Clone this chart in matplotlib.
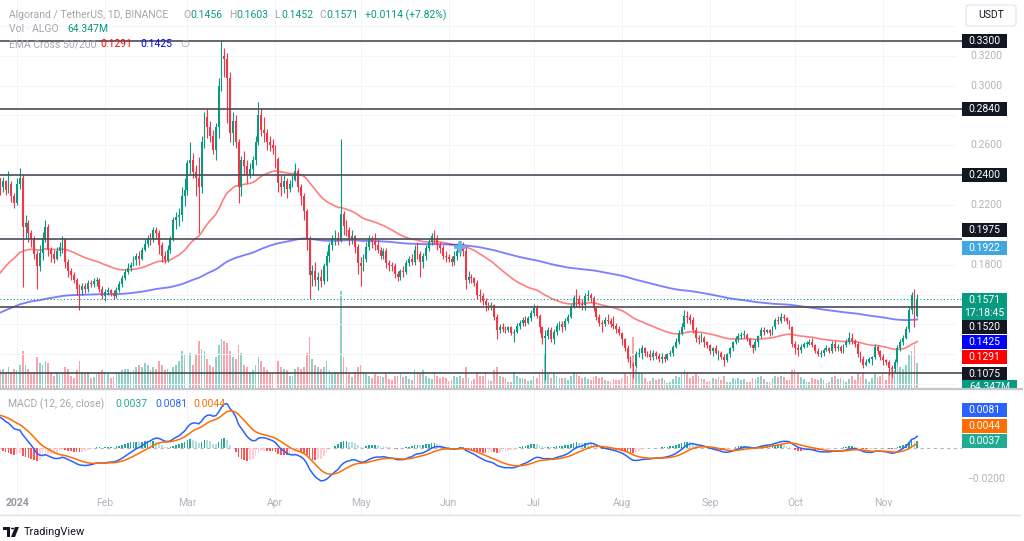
import numpy as np
import pandas as pd
import matplotlib
matplotlib.use("Agg")
import matplotlib.pyplot as plt
import matplotlib.transforms as mtransforms
from matplotlib.patches import Rectangle, FancyBboxPatch, Polygon, Circle

plt.rcParams['font.family'] = ['Roboto', 'DejaVu Sans']

# ---------------- data (ALGO/USDT daily) ----------------
START = "2023-12-26"
FIRST_OPEN = 0.238

close_dec = [0.232, 0.236, 0.230, 0.234, 0.226, 0.221]
high_dec = [0.236, 0.239, 0.237, 0.243, 0.236, 0.228]
low_dec = [0.227, 0.229, 0.227, 0.228, 0.222, 0.218]
vol_dec = [45, 50, 42, 55, 40, 48]

close_jan = [0.234, 0.238, 0.205, 0.208, 0.201, 0.197, 0.187, 0.179, 0.188, 0.198,
             0.205, 0.190, 0.187, 0.184, 0.189, 0.192, 0.197, 0.182, 0.176, 0.173,
             0.170, 0.164, 0.163, 0.166, 0.164, 0.168, 0.167, 0.169, 0.170, 0.164, 0.159]
high_jan = [0.238, 0.245, 0.240, 0.213, 0.210, 0.203, 0.199, 0.189, 0.193, 0.202,
            0.210, 0.207, 0.192, 0.190, 0.192, 0.195, 0.199, 0.198, 0.184, 0.178,
            0.175, 0.171, 0.167, 0.168, 0.168, 0.170, 0.170, 0.171, 0.172, 0.171, 0.166]
low_jan = [0.220, 0.231, 0.165, 0.198, 0.195, 0.192, 0.184, 0.164, 0.176, 0.183,
           0.195, 0.186, 0.182, 0.181, 0.183, 0.186, 0.188, 0.178, 0.172, 0.170,
           0.168, 0.160, 0.150, 0.160, 0.161, 0.162, 0.165, 0.165, 0.166, 0.162, 0.157]
vol_jan = [45, 60, 95, 60, 50, 35, 40, 80, 65, 60, 70, 65, 40, 30, 40, 38, 42, 55, 50, 30,
           25, 45, 70, 40, 35, 40, 25, 28, 35, 40, 45]

close_feb = [0.162, 0.163, 0.161, 0.159, 0.163, 0.167, 0.171, 0.175, 0.178, 0.180,
             0.183, 0.186, 0.184, 0.190, 0.194, 0.198, 0.197, 0.203, 0.201, 0.193,
             0.186, 0.183, 0.190, 0.197, 0.210, 0.212, 0.213, 0.226, 0.230]
high_feb = [0.164, 0.165, 0.164, 0.163, 0.165, 0.169, 0.173, 0.177, 0.181, 0.182,
            0.186, 0.188, 0.189, 0.192, 0.197, 0.200, 0.201, 0.205, 0.205, 0.203,
            0.195, 0.189, 0.193, 0.199, 0.212, 0.215, 0.218, 0.232, 0.238]
low_feb = [0.156, 0.160, 0.159, 0.157, 0.158, 0.162, 0.165, 0.170, 0.174, 0.176,
           0.179, 0.180, 0.180, 0.183, 0.189, 0.192, 0.193, 0.195, 0.197, 0.187,
           0.182, 0.181, 0.182, 0.188, 0.196, 0.204, 0.206, 0.209, 0.219]
vol_feb = [40, 35, 25, 28, 40, 38, 45, 50, 48, 40, 45, 55, 60, 55, 65, 60, 45, 55, 50, 70,
           60, 45, 50, 40, 55, 60, 70, 95, 85]

close_mar = [0.248, 0.250, 0.242, 0.238, 0.232, 0.262, 0.279, 0.272, 0.266, 0.257,
             0.272, 0.300, 0.320, 0.318, 0.305, 0.268, 0.276, 0.262, 0.232, 0.250,
             0.246, 0.240, 0.244, 0.250, 0.262, 0.280, 0.270, 0.268, 0.262, 0.260, 0.258]
high_mar = [0.250, 0.262, 0.255, 0.247, 0.252, 0.266, 0.282, 0.284, 0.276, 0.270,
            0.275, 0.305, 0.330, 0.325, 0.322, 0.309, 0.282, 0.280, 0.264, 0.253,
            0.256, 0.250, 0.248, 0.253, 0.266, 0.289, 0.285, 0.279, 0.271, 0.266, 0.264]
low_mar = [0.227, 0.241, 0.238, 0.226, 0.201, 0.228, 0.258, 0.265, 0.262, 0.254,
           0.250, 0.265, 0.296, 0.306, 0.275, 0.262, 0.260, 0.258, 0.221, 0.226,
           0.240, 0.235, 0.238, 0.240, 0.247, 0.260, 0.266, 0.262, 0.257, 0.256, 0.254]
vol_mar = [80, 90, 60, 85, 120, 100, 95, 75, 60, 55, 80, 110, 125, 120, 115, 95, 80, 75, 110, 90,
           60, 55, 40, 45, 60, 80, 70, 55, 45, 35, 35]

close_apr = [0.251, 0.235, 0.232, 0.236, 0.231, 0.234, 0.237, 0.243, 0.232, 0.226,
             0.216, 0.197, 0.173, 0.176, 0.170, 0.172, 0.169, 0.179, 0.186, 0.193,
             0.197, 0.198, 0.196, 0.214, 0.206, 0.203, 0.197, 0.199, 0.192, 0.181]
high_apr = [0.260, 0.252, 0.240, 0.241, 0.238, 0.237, 0.240, 0.248, 0.245, 0.234,
            0.228, 0.217, 0.199, 0.180, 0.182, 0.175, 0.177, 0.181, 0.189, 0.195,
            0.200, 0.203, 0.202, 0.264, 0.216, 0.210, 0.205, 0.203, 0.200, 0.194]
low_apr = [0.245, 0.229, 0.226, 0.228, 0.225, 0.229, 0.232, 0.236, 0.229, 0.220,
           0.210, 0.190, 0.157, 0.166, 0.166, 0.163, 0.165, 0.167, 0.169, 0.182,
           0.190, 0.193, 0.193, 0.195, 0.200, 0.199, 0.193, 0.194, 0.188, 0.174]
vol_apr = [55, 70, 55, 50, 45, 30, 30, 50, 55, 50, 55, 90, 130, 75, 60, 55, 50, 55, 70, 45,
           35, 40, 38, 250, 80, 55, 35, 28, 40, 55]

close_may = [0.179, 0.184, 0.192, 0.197, 0.195, 0.193, 0.190, 0.186, 0.189, 0.181,
             0.180, 0.179, 0.174, 0.172, 0.176, 0.175, 0.181, 0.184, 0.182, 0.190,
             0.187, 0.182, 0.186, 0.191, 0.195, 0.199, 0.197, 0.193, 0.191, 0.186, 0.185]
high_may = [0.185, 0.187, 0.195, 0.200, 0.199, 0.201, 0.197, 0.192, 0.191, 0.191,
            0.183, 0.182, 0.181, 0.176, 0.177, 0.179, 0.183, 0.186, 0.187, 0.193,
            0.195, 0.189, 0.188, 0.193, 0.197, 0.201, 0.203, 0.200, 0.195, 0.193, 0.189]
low_may = [0.166, 0.176, 0.182, 0.190, 0.191, 0.190, 0.188, 0.184, 0.184, 0.178,
           0.176, 0.176, 0.171, 0.169, 0.170, 0.172, 0.174, 0.179, 0.180, 0.180,
           0.184, 0.172, 0.178, 0.183, 0.189, 0.193, 0.194, 0.190, 0.188, 0.184, 0.182]
vol_may = [60, 40, 35, 30, 25, 35, 30, 30, 28, 35, 22, 20, 32, 30, 38, 28, 32, 22, 20, 45,
           40, 35, 45, 30, 25, 22, 35, 30, 25, 28, 25]

close_jun = [0.184, 0.182, 0.186, 0.189, 0.192, 0.189, 0.170, 0.172, 0.171, 0.168,
             0.160, 0.159, 0.156, 0.153, 0.152, 0.153, 0.145, 0.136, 0.138, 0.137,
             0.136, 0.138, 0.134, 0.135, 0.139, 0.141, 0.143, 0.141, 0.144, 0.148]
high_jun = [0.187, 0.186, 0.189, 0.191, 0.194, 0.195, 0.192, 0.176, 0.174, 0.172,
            0.170, 0.164, 0.161, 0.158, 0.155, 0.155, 0.154, 0.147, 0.140, 0.141,
            0.139, 0.139, 0.139, 0.137, 0.141, 0.143, 0.145, 0.146, 0.146, 0.150]
low_jun = [0.182, 0.179, 0.180, 0.183, 0.186, 0.186, 0.164, 0.168, 0.168, 0.166,
           0.157, 0.155, 0.153, 0.149, 0.150, 0.150, 0.143, 0.130, 0.134, 0.135,
           0.134, 0.135, 0.133, 0.128, 0.134, 0.137, 0.139, 0.139, 0.140, 0.142]
vol_jun = [18, 20, 30, 28, 30, 25, 55, 25, 18, 22, 40, 30, 32, 35, 20, 18, 45, 55, 30, 28,
           25, 15, 15, 40, 30, 25, 25, 22, 18, 20]

close_jul = [0.151, 0.146, 0.138, 0.131, 0.132, 0.136, 0.130, 0.135, 0.139, 0.140,
             0.138, 0.142, 0.145, 0.152, 0.158, 0.157, 0.154, 0.153, 0.159, 0.160,
             0.158, 0.151, 0.145, 0.141, 0.140, 0.143, 0.142, 0.140, 0.139, 0.137, 0.134]
high_jul = [0.154, 0.153, 0.147, 0.139, 0.136, 0.138, 0.138, 0.137, 0.141, 0.142,
            0.142, 0.144, 0.147, 0.154, 0.160, 0.164, 0.160, 0.157, 0.161, 0.163,
            0.161, 0.159, 0.152, 0.147, 0.143, 0.145, 0.147, 0.144, 0.146, 0.141, 0.139]
low_jul = [0.146, 0.144, 0.134, 0.127, 0.103, 0.130, 0.128, 0.127, 0.133, 0.136,
           0.135, 0.136, 0.141, 0.144, 0.151, 0.152, 0.152, 0.150, 0.150, 0.156,
           0.155, 0.149, 0.143, 0.139, 0.135, 0.139, 0.140, 0.138, 0.137, 0.134, 0.133]
vol_jul = [30, 25, 35, 50, 90, 35, 25, 35, 30, 25, 25, 25, 20, 30, 40, 35, 30, 25, 28, 22,
           20, 28, 30, 25, 28, 20, 18, 15, 22, 20, 20]

close_aug = [0.130, 0.124, 0.117, 0.113, 0.112, 0.120, 0.121, 0.124, 0.121, 0.120,
             0.118, 0.121, 0.119, 0.117, 0.118, 0.117, 0.120, 0.121, 0.125, 0.128,
             0.134, 0.138, 0.146, 0.145, 0.143, 0.136, 0.131, 0.130, 0.131, 0.128, 0.126]
high_aug = [0.135, 0.131, 0.126, 0.119, 0.115, 0.122, 0.124, 0.126, 0.125, 0.122,
            0.123, 0.123, 0.122, 0.121, 0.121, 0.120, 0.121, 0.123, 0.126, 0.131,
            0.136, 0.141, 0.150, 0.149, 0.147, 0.145, 0.138, 0.133, 0.134, 0.132, 0.129]
low_aug = [0.126, 0.122, 0.115, 0.111, 0.104, 0.111, 0.118, 0.117, 0.119, 0.118,
           0.116, 0.116, 0.117, 0.115, 0.114, 0.115, 0.116, 0.119, 0.119, 0.124,
           0.127, 0.133, 0.137, 0.141, 0.140, 0.134, 0.128, 0.127, 0.128, 0.125, 0.124]
vol_aug = [25, 35, 30, 40, 130, 50, 40, 35, 25, 15, 18, 25, 20, 22, 25, 20, 12, 15, 22, 30,
           28, 35, 45, 40, 25, 30, 35, 30, 25, 22, 15]

close_sep = [0.122, 0.124, 0.121, 0.121, 0.118, 0.116, 0.120, 0.124, 0.128, 0.130,
             0.132, 0.133, 0.133, 0.130, 0.126, 0.124, 0.128, 0.132, 0.136, 0.135,
             0.136, 0.134, 0.138, 0.143, 0.142, 0.145, 0.144, 0.142, 0.138, 0.127]
high_sep = [0.127, 0.125, 0.126, 0.123, 0.122, 0.120, 0.121, 0.125, 0.129, 0.132,
            0.134, 0.135, 0.136, 0.134, 0.131, 0.127, 0.130, 0.133, 0.138, 0.138,
            0.137, 0.137, 0.139, 0.144, 0.146, 0.148, 0.147, 0.145, 0.143, 0.139]
low_sep = [0.120, 0.119, 0.120, 0.116, 0.117, 0.112, 0.115, 0.118, 0.122, 0.127,
           0.128, 0.130, 0.131, 0.129, 0.125, 0.121, 0.123, 0.125, 0.131, 0.133,
           0.134, 0.132, 0.133, 0.137, 0.140, 0.141, 0.142, 0.140, 0.137, 0.125]
vol_sep = [18, 25, 22, 28, 20, 30, 15, 15, 25, 22, 25, 20, 22, 15, 15, 25, 22, 28, 30, 22,
           15, 15, 25, 30, 28, 32, 28, 20, 20, 45]

close_oct = [0.124, 0.123, 0.125, 0.127, 0.127, 0.128, 0.126, 0.122, 0.120, 0.121,
             0.123, 0.124, 0.122, 0.127, 0.124, 0.125, 0.122, 0.126, 0.128, 0.131,
             0.129, 0.127, 0.120, 0.117, 0.113, 0.115, 0.117, 0.118, 0.125, 0.122, 0.118]
high_oct = [0.129, 0.127, 0.127, 0.128, 0.129, 0.130, 0.131, 0.127, 0.124, 0.123,
            0.124, 0.126, 0.125, 0.129, 0.129, 0.127, 0.126, 0.127, 0.130, 0.135,
            0.134, 0.130, 0.128, 0.122, 0.119, 0.117, 0.118, 0.119, 0.127, 0.126, 0.123]
low_oct = [0.120, 0.119, 0.121, 0.124, 0.125, 0.126, 0.125, 0.121, 0.119, 0.118,
           0.119, 0.122, 0.121, 0.121, 0.122, 0.122, 0.121, 0.121, 0.125, 0.127,
           0.127, 0.125, 0.118, 0.115, 0.111, 0.112, 0.114, 0.113, 0.117, 0.120, 0.116]
vol_oct = [50, 35, 28, 22, 15, 15, 25, 22, 20, 25, 20, 12, 15, 28, 30, 22, 25, 20, 15, 22,
           30, 20, 35, 28, 40, 22, 15, 25, 35, 28, 30]

close_nov = [0.116, 0.115, 0.111, 0.110, 0.115, 0.124, 0.128, 0.131, 0.137, 0.150,
             0.160, 0.1456, 0.1571]
high_nov = [0.120, 0.117, 0.116, 0.113, 0.117, 0.126, 0.130, 0.133, 0.139, 0.152,
            0.162, 0.164, 0.1603]
low_nov = [0.113, 0.113, 0.106, 0.105, 0.108, 0.114, 0.122, 0.126, 0.130, 0.135,
           0.147, 0.138, 0.1452]
vol_nov = [35, 20, 40, 55, 45, 65, 55, 50, 60, 85, 95, 110, 64.347]

# indicator state carried in from before the visible window
EMA50_SEED = 0.172
EMA200_SEED = 0.147
MACD_FAST_SEED = 0.232
MACD_SLOW_SEED = 0.211
MACD_SIGNAL_SEED = 0.021

LEVELS = [0.3300, 0.2840, 0.2400, 0.1975, 0.1520, 0.1075]
CROSS_DATE = "2024-06-05"
CROSS_VALUE = 0.1922
LAST_EMA50 = 0.1291
LAST_EMA200 = 0.1425
LAST_MACD = 0.0081
LAST_SIGNAL = 0.0044
LAST_HIST = 0.0037
LAST_VOLUME = "64.347M"
CHANGE_TEXT = "+0.0114 (+7.82%)"
COUNTDOWN = "17:18:45"
MONTHS = ["2024", "Feb", "Mar", "Apr", "May", "Jun", "Jul", "Aug", "Sep", "Oct", "Nov"]

closes = np.array(close_dec + close_jan + close_feb + close_mar + close_apr + close_may +
                  close_jun + close_jul + close_aug + close_sep + close_oct + close_nov)
highs = np.array(high_dec + high_jan + high_feb + high_mar + high_apr + high_may +
                 high_jun + high_jul + high_aug + high_sep + high_oct + high_nov)
lows = np.array(low_dec + low_jan + low_feb + low_mar + low_apr + low_may +
                low_jun + low_jul + low_aug + low_sep + low_oct + low_nov)
volume = np.array(vol_dec + vol_jan + vol_feb + vol_mar + vol_apr + vol_may +
                  vol_jun + vol_jul + vol_aug + vol_sep + vol_oct + vol_nov, dtype=float)
opens = np.concatenate([[FIRST_OPEN], closes[:-1]])

base = pd.Timestamp("2024-01-01")
dates = pd.date_range(START, periods=len(closes), freq="D")
day = np.asarray((dates - base).days, dtype=float)


def ema(values, length, seed):
    alpha = 2.0 / (length + 1)
    out = []
    prev = seed
    for v in values:
        prev = prev + alpha * (v - prev)
        out.append(prev)
    return np.array(out)


ema50 = ema(closes, 50, EMA50_SEED)
ema200 = ema(closes, 200, EMA200_SEED)
macd = ema(closes, 12, MACD_FAST_SEED) - ema(closes, 26, MACD_SLOW_SEED)
signal = ema(macd, 9, MACD_SIGNAL_SEED)
hist = macd - signal

# ---------------- colours ----------------
UP = "#089981"
DOWN = "#f23645"
GRAY_TXT = "#a3a6af"
AXIS_TXT = "#b2b5be"
LINE_DARK = "#4a4d57"

W, H = 1024, 541
fig = plt.figure(figsize=(W / 100, H / 100), dpi=100)
fig.patch.set_facecolor("white")


def fx(px):
    return px / W


def fy(py):
    return 1 - py / H


PX_PER_DAY = 2.84
JAN1_PX = 17
x_lo = -JAN1_PX / PX_PER_DAY
x_hi = (W - JAN1_PX) / PX_PER_DAY

# main pane: y 0..388 px
ax = fig.add_axes([0, fy(388), 1, 388 / H])
axv = ax.twinx()
ax.set_zorder(2)
ax.patch.set_visible(False)
axv.set_zorder(1)
ax.set_xlim(x_lo, x_hi)
ax.set_ylim(0.33 - 347.3 / 1493.5, 0.33 + 40.7 / 1493.5)
axv.set_ylim(0, 997)
for a in (ax, axv):
    a.set_axis_off()

# macd pane: y 390..515 px
axm = fig.add_axes([0, fy(515), 1, 125 / H])
axm.set_xlim(x_lo, x_hi)
axm.set_ylim(-67.3 * 0.000639, 57.7 * 0.000639)
axm.set_axis_off()


def day_at(px):
    return ax.transData.inverted().transform((px, 0))[0]


def py_of(axis, value):
    return H - axis.transData.transform((0, value))[1]


x_end = day_at(962)
x_pane = day_at(955)

# grid
month_days = [(pd.Timestamp(2024, m, 1) - base).days for m in range(1, 12)]
for d in month_days:
    ax.axvline(d, color="#f3f4f7", lw=0.7, zorder=0)
    axm.axvline(d, color="#f3f4f7", lw=0.7, zorder=0)
for v in np.arange(0.10, 0.345, 0.02):
    ax.hlines(v, x_lo, x_pane, color="#f3f4f7", lw=0.7, zorder=0)

# volume
up = closes >= opens
cols = np.where(up, UP, DOWN)
axv.bar(day, volume, width=0.62, color=cols, alpha=0.45, linewidth=0)

# EMA lines
ax.plot(day, ema50, color="#ff0000", alpha=0.5, lw=1.2, zorder=2)
ax.plot(day, ema200, color="#0000ff", alpha=0.5, lw=1.35, zorder=2)

# candles
ax.vlines(day, lows, highs, colors=cols, lw=0.8, zorder=3)
ax.bar(day, np.maximum(np.abs(closes - opens), 0.0005), bottom=np.minimum(opens, closes),
       width=0.66, color=cols, linewidth=0, zorder=4)

# drawn levels and current price line
ax.hlines(LEVELS, x_lo, x_end, color=LINE_DARK, lw=1.2, zorder=6)
ax.hlines(closes[-1], x_lo, x_end, color=UP, lw=0.8, linestyles=(0, (1, 2)), zorder=5)

# ema cross marker
cross_day = (pd.Timestamp(CROSS_DATE) - base).days
ax.plot(cross_day, CROSS_VALUE, marker="+", ms=8, mew=2.6, color="#5db8ec", zorder=7)

# MACD
prev = np.concatenate([[hist[0]], hist[:-1]])
hcols = np.where(hist >= 0, np.where(hist > prev, "#26a69a", "#b2dfdb"),
                 np.where(hist < prev, "#ff5252", "#ffcdd2"))
axm.bar(day, hist, width=0.6, color=hcols, linewidth=0, zorder=2)
axm.hlines(0, x_lo, x_end, color="#b2b5be", lw=0.8, linestyles=(0, (3, 3)), zorder=1)
axm.plot(day, macd, color="#2962ff", lw=1.1, zorder=3)
axm.plot(day, signal, color="#ff6d00", lw=1.1, zorder=3)

# month labels
date_tr = mtransforms.blended_transform_factory(axm.transData, axm.transAxes)
for d, name in zip(month_days, MONTHS):
    axm.text(d, 12 / 125, name, transform=date_tr, ha="center", va="center", fontsize=7.5,
             color="#9598a1" if name == "2024" else AXIS_TXT,
             fontweight="bold" if name == "2024" else "normal")

# pane borders
fig.add_artist(plt.Line2D([0, fx(1022)], [fy(389), fy(389)], transform=fig.transFigure,
                          color="#c3c6ce", lw=1.6, zorder=8))
fig.add_artist(plt.Line2D([0, fx(1020)], [fy(515), fy(515)], transform=fig.transFigure,
                          color="#e0e3eb", lw=1.0, zorder=8))

BOX_H = 14


def price_box(py, lines, bg, fg="white", x0=962, x1=1007, h=BOX_H):
    top = py - h / 2
    height = h + 13 * (len(lines) - 1)
    fig.add_artist(Rectangle((fx(x0), fy(top + height)), fx(x1 - x0), height / H,
                             transform=fig.transFigure, facecolor=bg, edgecolor="none",
                             zorder=5))
    for i, s in enumerate(lines):
        fig.text(fx((x0 + x1) / 2), fy(py + i * 13), s, ha="center", va="center",
                 fontsize=7.5, color=fg, zorder=6)
    return (top, top + height)


# (value, background, display shift in px so the boxes do not overlap)
main_labels = [(0.3300, "#131722", 0), (0.2840, "#131722", 0), (0.2400, "#131722", 0),
               (0.1975, "#131722", -8.5), (CROSS_VALUE, "#42a7e0", 1),
               (0.1520, "#131722", 20), (LAST_EMA200, "#0000ff", 21),
               (LAST_EMA50, "#ff0000", 16), (0.1075, "#131722", 0.5)]
spans = []
for v, bg, dy in main_labels:
    spans.append(price_box(py_of(ax, v) + dy, [f"{v:.4f}"], bg))
spans.append(price_box(py_of(ax, closes[-1]) + 1, [f"{closes[-1]:.4f}", COUNTDOWN], UP))

macd_labels = [(LAST_MACD, "#2962ff", -25), (LAST_SIGNAL, "#ff6d00", -15),
               (LAST_HIST, "#22ab94", -1)]
for v, bg, dy in macd_labels:
    spans.append(price_box(py_of(axm, v) + dy, [f"{v:.4f}"], bg))

# volume label, cut by the pane border
fig.add_artist(Rectangle((fx(962), fy(388)), fx(1017 - 962), 8 / H, transform=fig.transFigure,
                         facecolor=UP, edgecolor="none", zorder=5))
vt = fig.text(fx(989.5), fy(387), LAST_VOLUME, ha="center", va="center", fontsize=7.5,
              color="white", zorder=6)
vt.set_clip_box(mtransforms.Bbox.from_extents(962, H - 388, 1017, H - 380))
vt.set_clip_on(True)
spans.append((376, 400))


def hidden(py):
    # scale ticks that sit under a value box are not shown
    return any(t - 5 <= py <= b + 5 for t, b in spans)


# price scale ticks
for v in np.arange(0.10, 0.325, 0.02):
    py = py_of(ax, v)
    if not hidden(py):
        fig.text(fx(986), fy(py), f"{v:.4f}", ha="center", va="center",
                 fontsize=7.5, color=AXIS_TXT, zorder=2)
for v in [-0.02, 0.0, 0.02]:
    py = py_of(axm, v)
    if not hidden(py):
        fig.text(fx(986), fy(py), f"{v:.4f}".replace("-", "\u2212"), ha="center",
                 va="center", fontsize=7.5, color=AXIS_TXT, zorder=2)

# USDT button
fig.add_artist(FancyBboxPatch((fx(966), fy(26)), fx(50), 21 / H, boxstyle="round,pad=0,rounding_size=0.004",
                              transform=fig.transFigure, facecolor="white", edgecolor="#e0e3eb",
                              lw=0.8, zorder=5))
fig.text(fx(991), fy(15.5), "USDT", ha="center", va="center", fontsize=7.5, color="#131722", zorder=6)

# legends
LEG_FS = 7.5
header = [("Algorand / TetherUS, 1D, BINANCE", 9, GRAY_TXT),
          ("O", 183, GRAY_TXT), (f"{opens[-1]:.4f}", 190, UP),
          ("H", 229, GRAY_TXT), (f"{highs[-1]:.4f}", 236, UP),
          ("L", 274, GRAY_TXT), (f"{lows[-1]:.4f}", 281, UP),
          ("C", 319, GRAY_TXT), (f"{closes[-1]:.4f}", 326, UP),
          (CHANGE_TEXT, 365, UP)]
for s, x, c in header:
    fig.text(fx(x), fy(15), s, ha="left", va="center", fontsize=LEG_FS, color=c, zorder=6)
for s, x, c in [("Vol \u00b7 ALGO", 9, GRAY_TXT), (LAST_VOLUME, 67, UP)]:
    fig.text(fx(x), fy(29.5), s, ha="left", va="center", fontsize=LEG_FS, color=c, zorder=6)
for s, x, c in [("EMA Cross 50/200", 9, GRAY_TXT), (f"{LAST_EMA50:.4f}", 100, "#ff0000"),
                (f"{LAST_EMA200:.4f}", 140, "#0000ff"), ("\u2205", 180, GRAY_TXT)]:
    fig.text(fx(x), fy(44), s, ha="left", va="center", fontsize=LEG_FS, color=c, zorder=6)
for s, x, c in [("MACD (12, 26, close)", 8, GRAY_TXT), (f"{LAST_HIST:.4f}", 115, "#22ab94"),
                (f"{LAST_MACD:.4f}", 155, "#2962ff"), (f"{LAST_SIGNAL:.4f}", 193, "#ff6d00")]:
    fig.text(fx(x), fy(404), s, ha="left", va="center", fontsize=LEG_FS, color=c, zorder=6)

# TradingView mark
fig.add_artist(Polygon([(fx(3), fy(527)), (fx(10), fy(527)), (fx(10), fy(537)),
                        (fx(7), fy(537)), (fx(7), fy(530)), (fx(3), fy(530))],
                       closed=True, transform=fig.transFigure, facecolor="#131722",
                       edgecolor="none", zorder=6))
fig.add_artist(Circle((fx(12.5), fy(528.5)), 1.6 / W, transform=fig.transFigure,
                      facecolor="#131722", edgecolor="none", zorder=6))
fig.add_artist(Polygon([(fx(15), fy(527)), (fx(19), fy(527)), (fx(15), fy(537)), (fx(11), fy(537))],
                       closed=True, transform=fig.transFigure, facecolor="#131722",
                       edgecolor="none", zorder=6))
fig.text(fx(24), fy(532), "TradingView", ha="left", va="center", fontsize=7.9,
         color="#131722", zorder=6)

fig.savefig("out.png", dpi=100, facecolor="white")
